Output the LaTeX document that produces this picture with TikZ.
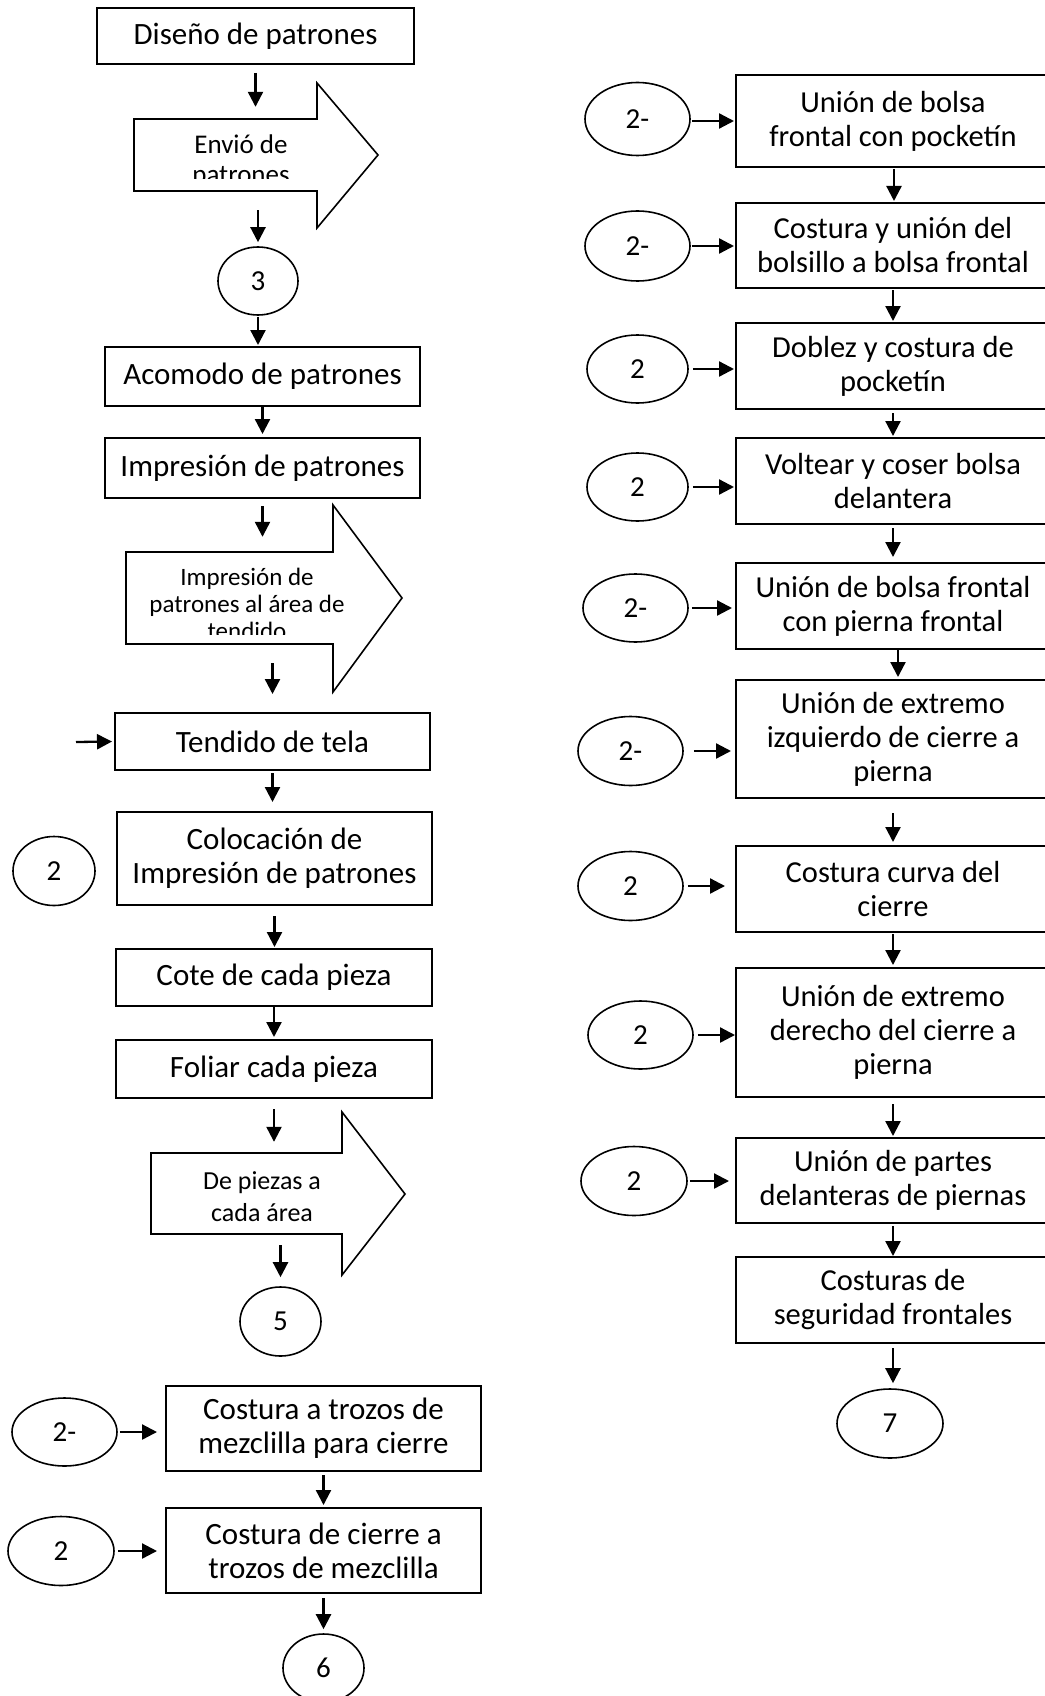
\documentclass[tikz,border=0pt]{standalone}
\usepackage{fontspec}
\setmainfont{Carlito}
\usetikzlibrary{arrows.meta,shapes.geometric}

\tikzset{
  caja/.style={draw, line width=2pt, align=center, inner sep=0pt,
    font=\fontsize{31}{34}\selectfont},
  cajad/.style={caja, font=\fontsize{30.5}{34}\selectfont},
  ovalo/.style={ellipse, draw, line width=1.6pt, inner sep=0pt,
    font=\fontsize{29}{34}\selectfont},
  flecha/.style={line width=2.3pt, -{Triangle[length=15pt,width=15pt]}},
  grande/.style={draw, line width=1.6pt, line join=miter},
  texflecha/.style={align=center, inner sep=0pt, font=\fontsize{27}{30}\selectfont},
  cuerpo/.style={inner sep=0pt}
}

\begin{document}
\begin{tikzpicture}[x=1pt,y=-1pt]
\useasboundingbox (0,0) rectangle (1044,1696);

% columna izquierda
\node[caja, minimum width=317pt, minimum height=56pt] (dis) at (255.5,36) {Diseño de patrones};
\node[cuerpo, minimum width=183pt, minimum height=72pt] (envb) at (225.5,155) {};
\draw[grande] (134,119) -- (317,119) -- (317,83) -- (378,155) -- (317,228) -- (317,191) -- (134,191) -- cycle;
\begin{scope}
  \clip (130,119) rectangle (380,179);
  \node[texflecha] (env) at (241,161) {Envió de\\patrones};
\end{scope}
\node[ovalo, minimum width=80pt, minimum height=68pt] (c3) at (258,281) {3};
\node[caja, minimum width=315pt, minimum height=59pt] (aco) at (262.5,376.5) {Acomodo de patrones};
\node[caja, minimum width=315pt, minimum height=60pt] (imp) at (262.5,468) {Impresión de patrones};
\node[cuerpo, minimum width=207pt, minimum height=92pt] (impb) at (229.5,598) {};
\draw[grande] (126,552) -- (333,552) -- (333,505) -- (402,598) -- (333,692) -- (333,644) -- (126,644) -- cycle;
\begin{scope}
  \clip (120,552) rectangle (402,634);
  \node[texflecha, font=\fontsize{25}{27}\selectfont] (imptx) at (247,604) {Impresión de\\patrones al área de\\tendido};
\end{scope}
\node[caja, minimum width=315pt, minimum height=57pt] (ten) at (272.5,741.5) {Tendido de tela};
\coordinate (tin) at (76,742);
\node[caja, minimum width=315pt, minimum height=93pt] (col) at (274.5,858.5) {Colocación de\\Impresión de patrones};
\node[ovalo, minimum width=82pt, minimum height=69pt] (c2a) at (54,871) {2};
\node[caja, minimum width=316pt, minimum height=57pt] (cot) at (274,977.5) {Cote de cada pieza};
\node[caja, minimum width=316pt, minimum height=58pt] (fol) at (274,1069) {Foliar cada pieza};
\node[cuerpo, minimum width=191pt, minimum height=81pt] (pieb) at (246.5,1193.5) {};
\draw[grande] (151,1153) -- (342,1153) -- (342,1112) -- (405,1194) -- (342,1275) -- (342,1234) -- (151,1234) -- cycle;
\node[texflecha, font=\fontsize{26}{32}\selectfont] (pie) at (262,1197) {De piezas a\\cada área};
\node[ovalo, minimum width=81pt, minimum height=69pt] (c5) at (280.5,1321.5) {5};

\draw[flecha, shorten <=8pt, shorten >=12pt] (dis.south) -- (dis.south |- envb.north);
\draw[flecha, shorten <=19pt, shorten >=4pt] (c3.north |- envb.south) -- (c3.north);
\draw[flecha, shorten <=1pt, shorten >=1pt] (c3.south) -- (c3.south |- aco.north);
\draw[flecha, shorten >=3pt] (aco.south) -- (aco.south |- imp.north);
\draw[flecha, shorten <=7pt, shorten >=15pt] (imp.south) -- (imp.south |- impb.north);
\draw[flecha, shorten <=19pt, shorten >=18pt] (ten.north |- impb.south) -- (ten.north);
\draw[flecha, shorten >=2pt] (tin) -- (ten.west);
\draw[flecha, shorten <=2pt, shorten >=9pt] (ten.south) -- (ten.south |- col.north);
\draw[flecha, shorten <=10pt, shorten >=1pt] (col.south) -- (col.south |- cot.north);
\draw[flecha, shorten >=2pt] (cot.south) -- (cot.south |- fol.north);
\draw[flecha, shorten <=10pt, shorten >=11pt] (fol.south) -- (fol.south |- pieb.north);
\draw[flecha, shorten <=11pt, shorten >=9pt] (c5.north |- pieb.south) -- (c5.north);

% parte de abajo
\node[caja, minimum width=315pt, minimum height=85pt] (tro) at (323.5,1428.5) {Costura a trozos de\\mezclilla para cierre};
\node[ovalo, minimum width=105pt, minimum height=68pt] (e2b) at (64.5,1432) {2-};
\node[caja, minimum width=315pt, minimum height=85pt] (cie) at (323.5,1550.5) {Costura de cierre a\\trozos de mezclilla};
\node[ovalo, minimum width=106pt, minimum height=69pt] (e2c) at (61,1551) {2};
\node[ovalo, minimum width=81pt, minimum height=68pt] (c6) at (323.5,1668) {6};

\draw[flecha, shorten <=2pt, shorten >=8pt] (e2b.east) -- (e2b.east -| tro.west);
\draw[flecha, shorten <=3pt, shorten >=8pt] (e2c.east) -- (e2c.east -| cie.west);
\draw[flecha, shorten <=3pt, shorten >=2pt] (tro.south) -- (tro.south |- cie.north);
\draw[flecha, shorten <=4pt, shorten >=4pt] (cie.south) -- (cie.south |- c6.north);

% columna derecha
\node[cajad, minimum width=314pt, minimum height=92pt] (r1) at (893,121) {Unión de bolsa\\frontal con pocketín};
\node[cajad, minimum width=314pt, minimum height=85pt] (r2) at (893,245.5) {Costura y unión del\\bolsillo a bolsa frontal};
\node[cajad, minimum width=314pt, minimum height=86pt] (r3) at (893,366) {Doblez y costura de\\pocketín};
\node[cajad, minimum width=314pt, minimum height=86pt] (r4) at (893,481) {Voltear y coser bolsa\\delantera};
\node[cajad, minimum width=314pt, minimum height=86pt] (r5) at (893,606) {Unión de bolsa frontal\\con pierna frontal};
\node[cajad, minimum width=314pt, minimum height=118pt] (r6) at (893,739) {Unión de extremo\\izquierdo de cierre a\\pierna};
\node[cajad, minimum width=314pt, minimum height=86pt] (r7) at (893,889) {Costura curva del\\cierre};
\node[cajad, minimum width=314pt, minimum height=129pt] (r8) at (893,1032.5) {Unión de extremo\\derecho del cierre a\\pierna};
\node[cajad, minimum width=314pt, minimum height=85pt] (r9) at (893,1180.5) {Unión de partes\\delanteras de piernas};
\node[cajad, minimum width=314pt, minimum height=86pt] (r10) at (893,1300) {Costuras de\\seguridad frontales};
\node[ovalo, minimum width=106pt, minimum height=69pt] (c7) at (890,1423.5) {7};

\node[ovalo, minimum width=105pt, minimum height=73pt] (e1) at (637.5,119) {\raisebox{-4pt}{2-}};
\node[ovalo, minimum width=105pt, minimum height=70pt] (e2) at (637.5,246) {2-};
\node[ovalo, minimum width=101pt, minimum height=68pt] (e3) at (637.5,369) {2};
\node[ovalo, minimum width=101pt, minimum height=68pt] (e4) at (637.5,487) {2};
\node[ovalo, minimum width=105pt, minimum height=68pt] (e5) at (635.5,608) {2-};
\node[ovalo, minimum width=105pt, minimum height=69pt] (e6) at (630.5,751) {2-};
\node[ovalo, minimum width=105pt, minimum height=69pt] (e7) at (630.5,886) {2};
\node[ovalo, minimum width=105pt, minimum height=68pt] (e8) at (640.5,1035) {2};
\node[ovalo, minimum width=106pt, minimum height=69pt] (e9) at (634,1181) {2};

\draw[flecha, shorten <=1pt, shorten >=1pt] (e1.east |- r1.west) -- (r1.west);
\draw[flecha, shorten <=1pt, shorten >=1pt] (e2.east) -- (e2.east -| r2.west);
\draw[flecha, shorten <=4pt, shorten >=1pt] (e3.east) -- (e3.east -| r3.west);
\draw[flecha, shorten <=4pt, shorten >=1pt] (e4.east) -- (e4.east -| r4.west);
\draw[flecha, shorten <=3pt, shorten >=3pt] (e5.east) -- (e5.east -| r5.west);
\draw[flecha, shorten <=10pt, shorten >=4pt] (e6.east) -- (e6.east -| r6.west);
\draw[flecha, shorten <=4pt, shorten >=10pt] (e7.east) -- (e7.east -| r7.west);
\draw[flecha, shorten <=4pt, shorten >=0pt] (e8.east) -- (e8.east -| r8.west);
\draw[flecha, shorten <=2pt, shorten >=6pt] (e9.east) -- (e9.east -| r9.west);

\draw[flecha, shorten <=1pt, shorten >=1pt] ([xshift=1pt]r1.south) -- ([xshift=1pt]r1.south |- r2.north);
\draw[flecha, shorten <=1pt, shorten >=1pt] (r2.south) -- (r2.south |- r3.north);
\draw[flecha, shorten <=3pt, shorten >=1pt] (r3.south) -- (r3.south |- r4.north);
\draw[flecha, shorten <=3pt, shorten >=5pt] (r4.south) -- (r4.south |- r5.north);
\draw[flecha, shorten >=2pt] ([xshift=5pt]r5.south) -- ([xshift=5pt]r5.south |- r6.north);
\draw[flecha, shorten <=14pt, shorten >=3pt] (r6.south) -- (r6.south |- r7.north);
\draw[flecha, shorten <=1pt, shorten >=2pt] (r7.south) -- (r7.south |- r8.north);
\draw[flecha, shorten <=6pt, shorten >=1pt] (r8.south) -- (r8.south |- r9.north);
\draw[flecha, shorten <=2pt] (r9.south) -- (r9.south |- r10.north);
\draw[flecha, shorten <=4pt, shorten >=5pt] (r10.south) -- (r10.south |- c7.north);
\end{tikzpicture}
\end{document}
